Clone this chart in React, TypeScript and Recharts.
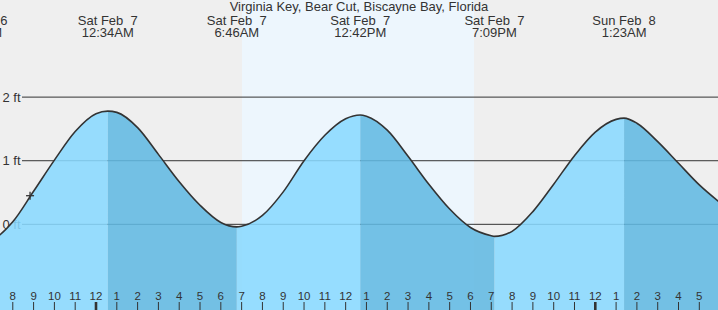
import React from 'react';
import {
  ComposedChart,
  Area,
  Line,
  XAxis,
  YAxis,
  ReferenceLine,
  ReferenceArea,
  Scatter,
} from 'recharts';

const W = 718;
const H = 310;
const FONT = '"Liberation Sans", Arial, sans-serif';
const INK = '#333333';

// hours relative to Sat Feb 7, 00:00 and tide level in feet
const hourTimes = [-5, -4, -3, -2, -1, 0, 1, 2, 3, 4, 5, 6, 7, 8, 9, 10, 11, 12, 13, 14, 15, 16, 17, 18, 19, 20, 21, 22, 23, 24, 25, 26, 27, 28, 29, 30];
const hourLevels = [-0.25, 0.04, 0.52, 1.01, 1.46, 1.74, 1.76, 1.52, 1.1, 0.67, 0.3, 0.03, -0.03, 0.14, 0.51, 1.0, 1.4, 1.66, 1.7, 1.48, 1.07, 0.63, 0.24, -0.05, -0.18, -0.11, 0.2, 0.63, 1.08, 1.45, 1.65, 1.59, 1.3, 0.96, 0.62, 0.34];

// high / low tide extremes
const extremeTimes = [-5.595, 0.567, 6.767, 12.7, 19.15, 25.383];
const extremeLevels = [-0.3, 1.78, -0.04, 1.72, -0.19, 1.67];
const extremeKinds = ['L', 'H', 'L', 'H', 'L', 'H'];
const extremeDays = ['Fri Feb  6', 'Sat Feb  7', 'Sat Feb  7', 'Sat Feb  7', 'Sat Feb  7', 'Sun Feb  8'];
const extremeClock = ['6:24PM', '12:34AM', '6:46AM', '12:42PM', '7:09PM', '1:23AM'];

// axis ticks
const hourTicks = [-4, -3, -2, -1, 0, 1, 2, 3, 4, 5, 6, 7, 8, 9, 10, 11, 12, 13, 14, 15, 16, 17, 18, 19, 20, 21, 22, 23, 24, 25, 26, 27, 28, 29];
const hourTickLabels = ['8', '9', '10', '11', '12', '1', '2', '3', '4', '5', '6', '7', '8', '9', '10', '11', '12', '1', '2', '3', '4', '5', '6', '7', '8', '9', '10', '11', '12', '1', '2', '3', '4', '5'];
const midnightTicks = [0, 24];
const footLevels = [0, 1, 2];
const footLabels = ['0 ft', '1 ft', '2 ft'];

// daylight and current-time marker
const sunrise = 7.02;
const sunset = 18.17;
const nowTimes = [-3.17];
const nowLevels = [0.45];

const xDomain = [-4.6145, 29.898];
const yDomain = [-1.347, 3.527];

const title = 'Virginia Key, Bear Cut, Biscayne Bay, Florida';

type Row = { t: number; v: number; rise: number | null; fall: number | null };

const merged = [
  ...hourTimes.map((t, i) => ({ t, v: hourLevels[i], ext: -1 })),
  ...extremeTimes.map((t, i) => ({ t, v: extremeLevels[i], ext: i })),
].sort((a, b) => a.t - b.t);

const rows: Row[] = merged.map((r) => {
  let prev = -1;
  for (let k = 0; k < extremeTimes.length; k++) if (extremeTimes[k] <= r.t) prev = k;
  const prevKind = prev >= 0 ? extremeKinds[prev] : extremeKinds[0] === 'L' ? 'H' : 'L';
  const isExt = r.ext >= 0;
  const rising = prevKind === 'L' || (isExt && extremeKinds[r.ext] === 'H');
  const falling = prevKind === 'H' || (isExt && extremeKinds[r.ext] === 'L');
  return { t: r.t, v: r.v, rise: rising ? r.v : null, fall: falling ? r.v : null };
});

const nowRows = nowTimes.map((t, i) => ({ t, v: nowLevels[i] }));

const HourTick = (props: any) => {
  const { x, payload } = props;
  const value = payload?.value;
  const idx = hourTicks.indexOf(value);
  const bold = midnightTicks.includes(value);
  return (
    <g>
      <text x={x} y={300} textAnchor="middle" fontFamily={FONT} fontSize={11.5} fill={INK}>
        {hourTickLabels[idx]}
      </text>
      <line x1={x} y1={302} x2={x} y2={310} stroke={INK} strokeWidth={bold ? 2.6 : 1} />
    </g>
  );
};

const makeFootLine = (label: string) => (p: any) => {
  const { x1, y1, x2 } = p;
  return (
    <g>
      <text x={x1 + 2.5} y={y1 + 4.5} fontFamily={FONT} fontSize={13} fill={INK}>
        {label}
      </text>
      <line x1={x1 + 22} y1={y1} x2={x2} y2={y1} stroke={INK} strokeWidth={1} />
    </g>
  );
};

const makeExtremeLabel = (i: number) => (p: any) => {
  const { x1 } = p;
  return (
    <g>
      <text
        x={x1}
        y={24.5}
        textAnchor="middle"
        fontFamily={FONT}
        fontSize={13}
        fill={INK}
        xmlSpace="preserve"
        style={{ whiteSpace: 'pre' }}
      >
        {extremeDays[i]}
      </text>
      <text x={x1} y={37} textAnchor="middle" fontFamily={FONT} fontSize={13} fill={INK}>
        {extremeClock[i]}
      </text>
    </g>
  );
};

const Cross = (p: any) => {
  const { cx, cy } = p;
  return (
    <g>
      <line x1={cx - 4} y1={cy} x2={cx + 4} y2={cy} stroke={INK} strokeWidth={1.3} />
      <line x1={cx} y1={cy - 4} x2={cx} y2={cy + 4} stroke={INK} strokeWidth={1.3} />
    </g>
  );
};

export default function App() {
  return (
    <div style={{ position: 'absolute', left: 0, top: 0, width: W, height: H, background: '#efefef', overflow: 'hidden' }}>
      <ComposedChart width={W} height={H} data={rows} margin={{ top: 0, right: 0, bottom: 0, left: 0 }}>
        <XAxis
          dataKey="t"
          type="number"
          domain={xDomain}
          allowDataOverflow
          ticks={hourTicks}
          interval={0}
          mirror
          axisLine={false}
          tickLine={false}
          tick={(p: any) => <HourTick {...p} />}
        />
        <YAxis type="number" domain={yDomain} allowDataOverflow hide />
        <ReferenceArea
          x1={sunrise}
          x2={sunset}
          fill="#edf6fd"
          fillOpacity={1}
          stroke="none"
          ifOverflow="visible"
          zIndex={-20}
        />
        {footLevels.map((lv, i) => (
          <ReferenceLine
            key={`ft-${lv}`}
            y={lv}
            ifOverflow="visible"
            zIndex={-10}
            shape={makeFootLine(footLabels[i])}
          />
        ))}
        {extremeTimes.map((t, i) => (
          <ReferenceLine key={`ex-${i}`} x={t} ifOverflow="visible" shape={makeExtremeLabel(i)} />
        ))}
        <Area
          dataKey="rise"
          type="monotone"
          baseValue="dataMin"
          stroke="none"
          fill="#89d9ff"
          fillOpacity={0.87}
          connectNulls={false}
          isAnimationActive={false}
          dot={false}
          activeDot={false}
        />
        <Area
          dataKey="fall"
          type="monotone"
          baseValue="dataMin"
          stroke="none"
          fill="#60b9e2"
          fillOpacity={0.87}
          connectNulls={false}
          isAnimationActive={false}
          dot={false}
          activeDot={false}
        />
        <Line
          dataKey="v"
          type="monotone"
          stroke={INK}
          strokeWidth={1.6}
          dot={false}
          activeDot={false}
          isAnimationActive={false}
        />
        <Scatter data={nowRows} dataKey="v" shape={<Cross />} isAnimationActive={false} />
      </ComposedChart>
      <svg width={W} height={H} style={{ position: 'absolute', left: 0, top: 0, pointerEvents: 'none' }}>
        <text x={359} y={11} textAnchor="middle" fontFamily={FONT} fontSize={13} fill={INK}>
          {title}
        </text>
      </svg>
    </div>
  );
}
